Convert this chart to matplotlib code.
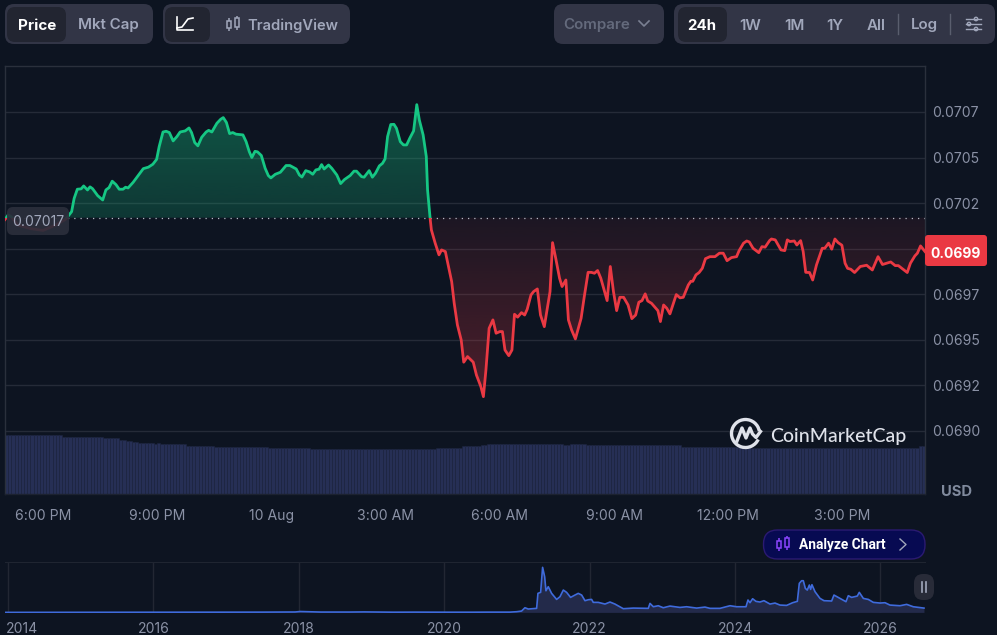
import numpy as np
import matplotlib
matplotlib.use("Agg")
import matplotlib.pyplot as plt
from matplotlib.patches import FancyBboxPatch, Rectangle, Arc, Circle
from matplotlib.transforms import ScaledTranslation
from matplotlib.colors import LinearSegmentedColormap

plt.rcParams['font.family'] = ['Inter', 'DejaVu Sans']

# ---------- data ----------
minutes = [-60, -55, -50, -40, -20, 0, 20, 35, 41, 45, 49, 54, 60, 64, 70, 74, 78, 86, 94, 99, 104, 109, 115, 120, 126, 130, 134,
           142, 150, 158, 166, 173, 179, 183, 189, 194, 199, 205, 211, 216, 224, 230, 234, 239, 244, 250, 257, 261, 266,
           274, 280, 284, 289, 294, 299, 304, 315, 320, 325, 329, 334, 338, 344, 350, 355, 359, 366, 374, 383, 389, 399,
           404, 408, 414, 420, 425, 430, 435, 439, 443, 450, 455, 463, 469, 475, 484, 490, 494, 502, 506, 514, 519, 524,
           530, 535, 539, 543, 548, 553, 557, 563, 568, 573, 578, 584, 589, 593, 599, 604, 606, 610,
           612, 618, 624, 628, 634, 639, 644, 648, 653, 659, 663, 669, 678, 683, 690, 694, 698, 703, 709, 714, 720,
           724, 728, 734, 739, 743, 748, 754, 759, 763, 769, 773, 779, 784, 790, 799, 803, 808, 814, 818, 824, 828, 833,
           839, 848, 853, 859, 864, 869, 874, 879, 889, 894, 899, 904, 909, 915, 922, 928, 934, 939, 944, 949, 953, 959,
           969, 973, 978, 983, 988, 998, 1004, 1009, 1017, 1021, 1024, 1029, 1034, 1039, 1044, 1051, 1059, 1066, 1072,
           1078, 1085, 1093, 1097, 1104, 1109, 1113, 1119, 1128, 1133, 1138, 1145, 1148, 1154, 1163, 1169, 1173, 1177,
           1184, 1188, 1194, 1198, 1202, 1208, 1213, 1219, 1228, 1232, 1238, 1243, 1248, 1253, 1259, 1264, 1268, 1273,
           1279, 1288, 1298, 1307, 1316, 1323, 1336, 1343, 1348, 1362, 1367, 1374, 1378, 1383, 1390]
price = [0.070160, 0.070185, 0.070175, 0.070130, 0.070110, 0.070100, 0.070130, 0.070160,
         0.070185, 0.070203, 0.070276, 0.070326, 0.070328, 0.070344, 0.070322, 0.070339, 0.070329, 0.070291, 0.070267,
         0.070322, 0.070335, 0.070370, 0.070351, 0.070326, 0.070326, 0.070337, 0.070333, 0.070364, 0.070401, 0.070439,
         0.070447, 0.070463, 0.070490, 0.070560, 0.070640, 0.070644, 0.070637, 0.070591, 0.070615, 0.070640, 0.070646,
         0.070662, 0.070637, 0.070582, 0.070564, 0.070611, 0.070640, 0.070649, 0.070640, 0.070688, 0.070710, 0.070719,
         0.070692, 0.070631, 0.070637, 0.070628, 0.070624, 0.070587, 0.070532, 0.070500, 0.070534, 0.070531, 0.070511,
         0.070441, 0.070401, 0.070388, 0.070408, 0.070419, 0.070456, 0.070456, 0.070437, 0.070404, 0.070393, 0.070428,
         0.070421, 0.070408, 0.070432, 0.070436, 0.070461, 0.070437, 0.070459, 0.070441, 0.070404, 0.070357, 0.070379,
         0.070401, 0.070425, 0.070425, 0.070395, 0.070392, 0.070428, 0.070392, 0.070414, 0.070454, 0.070468, 0.070492,
         0.070615, 0.070681, 0.070682, 0.070660, 0.070587, 0.070569, 0.070569, 0.070606, 0.070646, 0.070790, 0.070706,
         0.070624, 0.070505, 0.070322, 0.070167,
         0.070103, 0.070030, 0.069966, 0.069993, 0.069984, 0.069902, 0.069819, 0.069700, 0.069582, 0.069499, 0.069377,
         0.069408, 0.069377, 0.069307, 0.069243, 0.069188, 0.069335, 0.069563, 0.069609, 0.069536, 0.069545,
         0.069545, 0.069444, 0.069413, 0.069444, 0.069640, 0.069624, 0.069649, 0.069636, 0.069667, 0.069746, 0.069764,
         0.069779, 0.069636, 0.069572, 0.069764, 0.070033, 0.069947, 0.069838, 0.069792, 0.069828, 0.069609, 0.069554,
         0.069505, 0.069618, 0.069737, 0.069870, 0.069870, 0.069865, 0.069880, 0.069838, 0.069715, 0.069902, 0.069764,
         0.069660, 0.069733, 0.069733, 0.069691, 0.069616, 0.069636, 0.069706, 0.069715, 0.069752, 0.069713, 0.069700,
         0.069660, 0.069600, 0.069691, 0.069673, 0.069642, 0.069748, 0.069730, 0.069733, 0.069801, 0.069821, 0.069821,
         0.069856, 0.069869, 0.069892, 0.069945, 0.069956, 0.069956, 0.069975, 0.069975, 0.069934, 0.069951, 0.069956,
         0.069989, 0.070030, 0.070042, 0.070037, 0.070002, 0.069978, 0.070011, 0.070008, 0.070044, 0.070053, 0.070048,
         0.069993, 0.069989, 0.070048, 0.070039, 0.070042, 0.070020, 0.070044, 0.069984, 0.069870, 0.069869, 0.069828,
         0.069911, 0.070002, 0.070002, 0.070030, 0.069997, 0.070053, 0.070033, 0.070019, 0.069920, 0.069892, 0.069887,
         0.069869, 0.069902, 0.069909, 0.069883, 0.069956, 0.069913, 0.069927, 0.069907, 0.069907, 0.069869, 0.069920,
         0.069960, 0.069975, 0.070015, 0.069984]
baseline_price = 0.07017
y_ticks = [0.0690, 0.06925, 0.0695, 0.06975, 0.0700, 0.07025, 0.0705, 0.07075]
y_tick_labels = ['0.0690', '0.0692', '0.0695', '0.0697', '', '0.0702', '0.0705', '0.0707']
x_ticks = [0, 180, 360, 540, 720, 900, 1080, 1260]
x_tick_labels = ['6:00 PM', '9:00 PM', '10 Aug', '3:00 AM', '6:00 AM', '9:00 AM', '12:00 PM', '3:00 PM']

volume_levels = [59.3, 57.3, 56, 54.3, 53, 52, 51, 50.3, 50.8, 50, 48.3, 47.3, 46, 45, 46, 47.7, 49, 50, 49, 50, 49, 48.7, 47.3,
                 46, 47.7]
volume_counts = [18, 13, 5, 2, 2, 2, 5, 1, 1, 8, 9, 17, 13, 40, 8, 6, 2, 24, 2, 5, 10, 20, 22, 53, 2]

overview_years = [2013.96, 2017.5, 2017.95, 2018.02, 2018.3, 2018.7, 2018.9, 2019.3, 2019.6, 2020.0, 2020.4, 2020.6,
                  2020.905, 2020.997, 2021.065, 2021.111, 2021.157, 2021.272, 2021.290, 2021.327, 2021.354, 2021.382,
                  2021.400, 2021.432, 2021.478, 2021.547, 2021.593, 2021.639, 2021.684, 2021.739, 2021.799, 2021.845,
                  2021.891, 2021.937, 2021.982, 2022.028, 2022.051, 2022.120, 2022.212, 2022.281, 2022.349, 2022.464,
                  2022.601, 2022.808, 2022.831, 2022.877, 2022.945, 2023.014, 2023.106, 2023.243, 2023.335, 2023.473,
                  2023.587, 2023.656, 2023.794, 2023.932, 2024.023, 2024.152, 2024.179, 2024.207, 2024.243, 2024.289,
                  2024.344, 2024.399, 2024.482, 2024.551, 2024.619, 2024.711, 2024.794, 2024.858, 2024.885, 2024.917,
                  2024.940, 2024.968, 2024.995, 2025.023, 2025.041, 2025.059, 2025.101, 2025.170, 2025.225, 2025.330,
                  2025.362, 2025.445, 2025.527, 2025.559, 2025.605, 2025.683, 2025.710, 2025.766, 2025.834, 2025.903,
                  2025.995, 2026.064, 2026.132, 2026.270, 2026.362, 2026.453, 2026.600]
overview_values = [0.0003, 0.004, 0.006, 0.013, 0.005, 0.005, 0.007, 0.003, 0.004, 0.003, 0.003, 0.004,
                   0.004, 0.010, 0.020, 0.069, 0.050, 0.060, 0.283, 0.298, 0.670, 0.531, 0.322, 0.382, 0.283, 0.193,
                   0.233, 0.332, 0.298, 0.223, 0.258, 0.283, 0.258, 0.174, 0.188, 0.193, 0.149, 0.149, 0.124, 0.154,
                   0.124, 0.055, 0.064, 0.060, 0.134, 0.084, 0.099, 0.069, 0.094, 0.074, 0.084, 0.064, 0.079, 0.060,
                   0.060, 0.099, 0.084, 0.084, 0.184, 0.144, 0.203, 0.164, 0.154, 0.174, 0.124, 0.139, 0.109, 0.104,
                   0.144, 0.164, 0.432, 0.471, 0.471, 0.357, 0.332, 0.407, 0.342, 0.412, 0.308, 0.208, 0.174, 0.169,
                   0.258, 0.208, 0.159, 0.248, 0.223, 0.243, 0.298, 0.208, 0.193, 0.149, 0.139, 0.144, 0.109, 0.099,
                   0.119, 0.084, 0.064]
overview_tick_years = [2014, 2016, 2018, 2020, 2022, 2024, 2026]

# ---------- style ----------
BG = '#0d1421'
GRID = '#252b38'
GREEN = '#16c784'
RED = '#ea3943'
MUTED = '#8a91a5'
BTN = '#323546'
BTN_ON = '#222531'
W, H = 997, 635


def axes_px(x0, y0, x1, y1):
    return fig.add_axes([x0 / W, 1 - y1 / H, (x1 - x0) / W, (y1 - y0) / H])


fig = plt.figure(figsize=(W / 100, H / 100), dpi=100, facecolor=BG)

# ---------- volume (behind) ----------
axv = axes_px(5, 66, 925, 494)
axv.set_facecolor(BG)
vol = np.repeat(volume_levels, volume_counts)
vol_x = -60 + 2.5 + 5 * np.arange(len(vol))
axv.bar(vol_x, vol, width=5, color='#262f55', edgecolor='#1d2540', linewidth=0.4)
axv.set_xlim(-60, 1390)
axv.set_ylim(0, 428)
axv.set_xticks([])
axv.set_yticks([])
for s in axv.spines.values():
    s.set_visible(False)

# ---------- price ----------
ax = axes_px(5, 66, 925, 494)
ax.patch.set_visible(False)
YMIN, YMAX = 0.068654, 0.071002
ax.set_xlim(-60, 1390)
ax.set_ylim(YMIN, YMAX)
ax.set_yticks(y_ticks)
ax.set_yticklabels(y_tick_labels)
ax.yaxis.tick_right()
ax.set_xticks(x_ticks)
ax.set_xticklabels(x_tick_labels)
ax.tick_params(axis='y', length=0, pad=5.2, labelsize=10.1, labelcolor=MUTED)
ax.tick_params(axis='x', length=0, pad=10.5, labelsize=10.1, labelcolor=MUTED)
ax.grid(axis='y', color=GRID, linewidth=1)
ax.set_axisbelow(True)
for side, s in ax.spines.items():
    s.set_color('#2a303c')
    s.set_linewidth(1)
ax.spines['bottom'].set_color('#1c2230')

t = np.array(minutes, dtype=float)
p = np.array(price)


def gradient(color, a_lo, a_hi, y_lo, y_hi, where):
    cmap = LinearSegmentedColormap.from_list('g', [(*matplotlib.colors.to_rgb(color), a_lo),
                                                   (*matplotlib.colors.to_rgb(color), a_hi)])
    col = ax.fill_between(t, p, baseline_price, where=where, interpolate=True, color='none', linewidth=0)
    im = ax.imshow(np.linspace(0, 1, 256)[:, None], cmap=cmap, origin='lower', aspect='auto',
                   extent=[-60, 1390, y_lo, y_hi], zorder=1.5)
    path = col.get_paths()[0] if len(col.get_paths()) == 1 else matplotlib.path.Path.make_compound_path(*col.get_paths())
    im.set_clip_path(path, transform=ax.transData)


gradient(GREEN, 0.20, 0.38, baseline_price, 0.0708, p >= baseline_price)
gradient(RED, 0.28, 0.07, 0.06925, baseline_price, p <= baseline_price)
ax.set_xlim(-60, 1390)
ax.set_ylim(YMIN, YMAX)

up, = ax.plot(t, p, color=GREEN, linewidth=2.0, zorder=3, solid_joinstyle='round')
dn, = ax.plot(t, p, color=RED, linewidth=2.0, zorder=3, solid_joinstyle='round')
up.set_clip_path(Rectangle((-60, baseline_price), 1450, YMAX - baseline_price, transform=ax.transData))
dn.set_clip_path(Rectangle((-60, YMIN), 1450, baseline_price - YMIN, transform=ax.transData))
ax.axhline(baseline_price, color='#b4b8c4', linewidth=0.9, linestyle=(0, (1, 4)), zorder=2.5)

# ---------- overview ----------
axo = axes_px(5, 561.5, 925, 613)
axo.set_facecolor(BG)
axo.set_xlim(2013.959, 2026.614)
axo.set_ylim(-0.009, 0.757)
axo.fill_between(overview_years, overview_values, 0, color='#232a4a', linewidth=0)
axo.plot(overview_years, overview_values, color='#3f6bdc', linewidth=1.2)
axo.set_xticks(overview_tick_years)
axo.set_xticklabels([str(y) for y in overview_tick_years])
axo.tick_params(axis='x', length=0, pad=6.2, labelsize=10.1, labelcolor=MUTED)
axo.set_yticks([])
axo.grid(axis='x', color='#222733', linewidth=1)
axo.set_axisbelow(True)
for side, s in axo.spines.items():
    s.set_visible(side == 'top')
    s.set_color('#1f2531')
lab0 = axo.get_xticklabels()[0]
lab0.set_ha('left')
lab0.set_transform(lab0.get_transform() + ScaledTranslation(-2 / 100, 0, fig.dpi_scale_trans))

# ---------- interface chrome ----------
ui = fig.add_axes([0, 0, 1, 1], zorder=10)
ui.set_xlim(0, W)
ui.set_ylim(H, 0)
ui.axis('off')


def box(x0, y0, x1, y1, fc, r=8, ec='none', alpha=1, lw=1):
    ui.add_patch(FancyBboxPatch((x0 + r, y0 + r), x1 - x0 - 2 * r, y1 - y0 - 2 * r,
                                boxstyle=f'round,pad={r},rounding_size={r}', fc=fc, ec=ec, alpha=alpha, lw=lw))


def txt(x, y, s, color='#a1a7bb', size=10.9, weight='normal', ha='center'):
    ui.text(x, y, s, color=color, fontsize=size, fontweight=weight, ha=ha, va='center_baseline')


def candles(x, y, color, lw=1.1):
    for dx, top, bottom, wick_top, wick_bottom in [(-4, -3, 4, -6, 7), (4, -6, 3, -8, 6)]:
        ui.add_patch(Rectangle((x + dx - 2, y + top), 4, bottom - top, fc='none', ec=color, lw=lw))
        ui.plot([x + dx, x + dx], [y + wick_top, y + top], color=color, lw=lw, solid_capstyle='butt')
        ui.plot([x + dx, x + dx], [y + bottom, y + wick_bottom], color=color, lw=lw, solid_capstyle='butt')


for g in [(5, 4, 153, 44), (163, 4, 350, 44), (554, 4, 664, 44), (674, 4, 995, 44)]:
    box(*g, BTN, r=9)
for g in [(7, 7, 66, 42), (165, 7, 210, 42), (678, 7, 727, 42)]:
    box(*g, BTN_ON, r=8)

txt(37.5, 24, 'Price', color='white', weight='bold')
txt(108.5, 24, 'Mkt Cap', weight='semibold')
txt(293, 24, 'TradingView', weight='semibold', size=10.6)
txt(596.5, 24, 'Compare', color='#646a7c', weight='semibold')
txt(702, 24, '24h', color='white', weight='bold')
txt(750, 24, '1W', weight='semibold')
txt(794, 24, '1M', weight='semibold')
txt(835, 24, '1Y', weight='semibold')
txt(876, 24, 'All', weight='semibold')
txt(924, 24, 'Log', weight='semibold')
for sx in (898, 950):
    ui.plot([sx, sx], [14, 34], color='#5a5e6e', lw=1)

# line-chart icon
ui.plot([177, 177, 193], [17, 30, 30], color='white', lw=1.2)
ui.plot([177, 182, 185, 188, 193], [28, 27, 23, 19, 18], color='white', lw=1.2)
candles(233, 24, '#a1a7bb')
# compare chevron
ui.plot([639, 644, 649], [21, 26, 21], color='#7a8092', lw=1.2)
# settings sliders
for yy, cx in [(19, 976), (24, 969), (29, 976)]:
    ui.plot([966, 981], [yy, yy], color='#a1a7bb', lw=1)
    ui.add_patch(Circle((cx, yy), 1.7, fc=BTN, ec='#a1a7bb', lw=1))

# price tags
box(7, 207, 69, 235, '#2b2e3b', r=6, alpha=0.93)
txt(38, 221, '0.07017', size=10.1)
box(925, 235, 987, 266, RED, r=3)
txt(956, 252, '0.0699', color='white', weight='bold', size=10)
txt(956, 490, 'USD', color='#808a9d', weight='bold', size=10.6)

# watermark
ui.add_patch(Arc((745.5, 433.5), 28, 28, theta1=25, theta2=350, color='#dfe2ea', lw=2.4))
ui.plot([737, 742, 746, 750, 752.5, 756, 760.5], [441, 428, 438, 428, 434, 437.5, 431.5],
        color='#dfe2ea', lw=2.4, solid_joinstyle='round')
ui.text(770, 435, 'CoinMarketCap', color='#dfe2ea', fontsize=14, fontweight='medium', ha='left',
        va='center_baseline', family=['Lato', 'DejaVu Sans'])

# analyze button
box(763.5, 530, 925, 559, '#070a52', r=14, ec='#2b1a72')
candles(783, 544, '#8b45ff')
ui.text(842.5, 544, 'Analyze Chart', color='white', fontsize=9.9, fontweight='bold', ha='center',
        va='center_baseline', family=['Roboto', 'DejaVu Sans'])
ui.plot([900, 906, 900], [539, 544.5, 550], color='#a1a7bb', lw=1)

# overview pause handle
box(914, 574, 934, 600, '#282b38', r=9)
ui.plot([922, 922], [582, 592], color='#a1a7bb', lw=1.2)
ui.plot([926, 926], [582, 592], color='#a1a7bb', lw=1.2)

fig.savefig('out.png', dpi=100, facecolor=BG)
